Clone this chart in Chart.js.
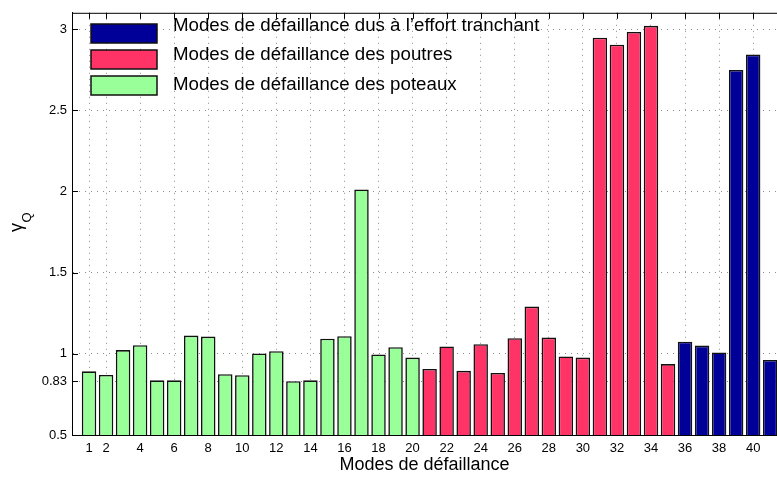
<!DOCTYPE html>
<html lang="fr">
<head>
<meta charset="utf-8">
<title>Modes de défaillance</title>
<script src="https://cdn.jsdelivr.net/npm/chart.js@4/dist/chart.umd.min.js"></script>
<style>
  html, body { margin: 0; padding: 0; background: #fff; }
  canvas { display: block; }
</style>
</head>
<body>
<canvas id="chartGamma" width="777" height="478"></canvas>
<script>
// ===== DONNÉES =====
const modesPoteaux   = [1, 2, 3, 4, 5, 6, 7, 8, 9, 10, 11, 12, 13, 14, 15, 16, 17, 18, 19, 20];
const gammaPoteaux   = [0.892, 0.870, 1.023, 1.053, 0.837, 0.837, 1.112, 1.106, 0.874, 0.868,
                        1.002, 1.016, 0.831, 0.837, 1.093, 1.108, 2.012, 0.996, 1.041, 0.977];

const modesPoutres   = [21, 22, 23, 24, 25, 26, 27, 28, 29, 30, 31, 32, 33, 34, 35];
const gammaPoutres   = [0.907, 1.045, 0.895, 1.059, 0.882, 1.096, 1.291, 1.100, 0.984, 0.977,
                        2.947, 2.904, 2.982, 3.020, 0.937];

const modesTranchant = [36, 37, 38, 39, 40, 41];
const gammaTranchant = [1.075, 1.051, 1.008, 2.748, 2.843, 0.962];

const xTicks = [1, 2, 4, 6, 8, 10, 12, 14, 16, 18, 20, 22, 24, 26, 28, 30, 32, 34, 36, 38, 40];
const yTicks = [0.5, 0.83, 1, 1.5, 2, 2.5, 3];

const legendLabels = [
  'Modes de défaillance dus à l\u2019effort tranchant',
  'Modes de défaillance des poutres',
  'Modes de défaillance des poteaux'
];

const FONT = "'Liberation Sans', Arial, Helvetica, sans-serif";
const couleurs = { tranchant: '#000099', poutres: '#FF3366', poteaux: '#99FF99' };

const toPoints = (xs, ys) => xs.map((x, i) => ({ x, y: ys[i] }));

// ===== PLUGINS =====
// cadre haut + petits traits de graduation vers l'intérieur
const axesMatlab = {
  id: 'axesMatlab',
  afterDatasetsDraw(chart) {
    const { ctx, chartArea: a, scales: { x, y } } = chart;
    ctx.save();
    ctx.strokeStyle = '#000';
    ctx.lineWidth = 1;
    ctx.beginPath();
    ctx.moveTo(a.left, a.top + 0.5);
    ctx.lineTo(a.right, a.top + 0.5);
    xTicks.forEach(v => {
      const px = Math.round(x.getPixelForValue(v)) + 0.5;
      ctx.moveTo(px, a.top);
      ctx.lineTo(px, a.top + 6);
    });
    yTicks.forEach(v => {
      const py = Math.round(y.getPixelForValue(v)) + 0.5;
      ctx.moveTo(a.left, py);
      ctx.lineTo(a.left + 6, py);
    });
    ctx.stroke();
    ctx.restore();
  }
};

// légende dessinée dans la zone du graphe
const legendeInterne = {
  id: 'legendeInterne',
  afterDraw(chart) {
    const { ctx } = chart;
    const cols = [couleurs.tranchant, couleurs.poutres, couleurs.poteaux];
    const boxTops = [24, 50, 76];
    const baselines = [30.5, 59.5, 89.5];
    ctx.save();
    ctx.font = '18.7px ' + FONT;
    ctx.textBaseline = 'alphabetic';
    boxTops.forEach((top, i) => {
      ctx.fillStyle = cols[i];
      ctx.fillRect(91, top, 66, 19);
      ctx.strokeStyle = '#111';
      ctx.lineWidth = 1.5;
      ctx.strokeRect(91, top, 66, 19);
      ctx.fillStyle = '#000';
      ctx.fillText(legendLabels[i], 173, baselines[i]);
    });
    ctx.restore();
  }
};

// titre de l'axe y : gamma indice Q
const titreY = {
  id: 'titreY',
  afterDraw(chart) {
    const { ctx } = chart;
    ctx.save();
    ctx.translate(22, 232);
    ctx.rotate(-Math.PI / 2);
    ctx.fillStyle = '#000';
    ctx.textBaseline = 'alphabetic';
    ctx.font = '18px ' + FONT;
    ctx.fillText('\u03B3', 0, 0);
    const w = ctx.measureText('\u03B3').width;
    ctx.font = '13px ' + FONT;
    ctx.fillText('Q', w + 0.5, 8.5);
    ctx.restore();
  }
};

// ===== GRAPHIQUE =====
function barres(label, xs, ys, couleur) {
  return {
    label,
    data: toPoints(xs, ys),
    backgroundColor: couleur,
    borderColor: '#111',
    borderWidth: 1.6,
    borderSkipped: false,
    grouped: false,
    barPercentage: 0.85,
    categoryPercentage: 1
  };
}

new Chart(document.getElementById('chartGamma'), {
  type: 'bar',
  data: {
    datasets: [
      barres(legendLabels[0], modesTranchant, gammaTranchant, couleurs.tranchant),
      barres(legendLabels[1], modesPoutres, gammaPoutres, couleurs.poutres),
      barres(legendLabels[2], modesPoteaux, gammaPoteaux, couleurs.poteaux)
    ]
  },
  options: {
    responsive: false,
    animation: false,
    devicePixelRatio: 1,
    layout: { padding: { top: 9, right: 0, left: 0, bottom: 0 } },
    plugins: { legend: { display: false }, tooltip: { enabled: false } },
    scales: {
      x: {
        type: 'linear',
        offset: false,
        min: 0,
        max: 41.4,
        afterBuildTicks: s => { s.ticks = xTicks.map(value => ({ value })); },
        afterFit: s => { s.height = 43; },
        grid: { color: '#8c8c8c', lineWidth: 1, drawTicks: false, offset: false },
        border: { display: true, color: '#000', width: 1, dash: [1, 5] },
        ticks: {
          color: '#000',
          padding: 6,
          maxRotation: 0,
          autoSkip: false,
          font: { family: FONT, size: 13 },
          callback: v => String(v)
        },
        title: {
          display: true,
          text: 'Modes de défaillance',
          color: '#000',
          font: { family: FONT, size: 18 },
          padding: { top: 0, bottom: 2 }
        }
      },
      y: {
        min: 0.5,
        max: 3.1,
        afterBuildTicks: s => { s.ticks = yTicks.map(value => ({ value })); },
        afterFit: s => { s.width = 72; },
        grid: { color: '#8c8c8c', lineWidth: 1, drawTicks: false },
        border: { display: true, color: '#000', width: 1, dash: [1, 5] },
        ticks: {
          color: '#000',
          padding: 5,
          autoSkip: false,
          font: { family: FONT, size: 13 },
          callback: v => String(v)
        }
      }
    }
  },
  plugins: [axesMatlab, legendeInterne, titreY]
});
</script>
</body>
</html>
